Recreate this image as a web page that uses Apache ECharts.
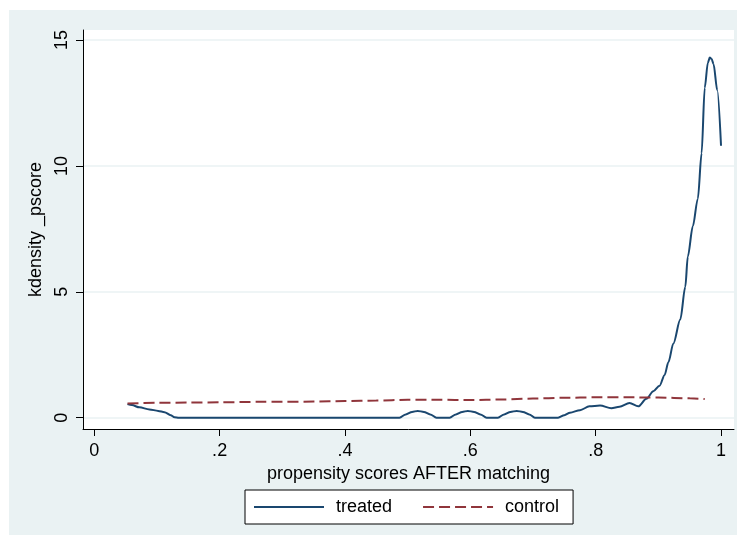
<!DOCTYPE html>
<html>
<head>
<meta charset="utf-8">
<script src="https://cdn.jsdelivr.net/npm/echarts@6/dist/echarts.min.js"></script>
<style>
html,body{margin:0;padding:0;background:#ffffff;}
#chart{width:742px;height:545px;}
</style>
</head>
<body>
<div id="chart"></div>
<script>
// ---- data ----
const xTicks = [0, 0.2, 0.4, 0.6, 0.8, 1];
const yTicks = [0, 5, 10, 15];
const treatedX = [0.053,0.06,0.072,0.088,0.102,0.112,0.122,0.128,0.135,
  0.487,0.497,0.507,0.516,0.526,0.536,0.546,
  0.567,0.577,0.587,0.596,0.606,0.616,0.626,
  0.644,0.654,0.664,0.674,0.684,0.694,0.703,
  0.74,0.75,0.759,0.775,0.79,0.807,0.825,0.838,0.854,0.868,0.881,0.892,0.902,0.91,0.916,
  0.924,0.935,0.943,0.947,0.955,0.963,0.969,0.974,0.979,0.982,0.985,0.988,0.994,1.0];
const treatedY = [0.54,0.5,0.41,0.33,0.27,0.22,0.1,0.02,0,
  0,0.13,0.23,0.27,0.23,0.13,0,
  0,0.13,0.23,0.27,0.23,0.13,0,
  0,0.13,0.23,0.27,0.23,0.13,0,
  0,0.1,0.2,0.3,0.45,0.48,0.38,0.43,0.58,0.45,0.75,1.05,1.27,1.7,2.2,
  2.95,3.9,5.2,6.4,7.6,8.7,10.5,13.1,14.1,14.3,14.25,14.05,13.0,10.8];
const controlX = [0.053,0.1,0.15,0.2,0.264,0.3,0.35,0.4,0.45,0.5,0.55,0.6,0.65,0.7,0.75,0.8,0.85,0.9,0.95,0.974];
const controlY = [0.56,0.59,0.6,0.61,0.63,0.63,0.64,0.66,0.68,0.71,0.71,0.7,0.72,0.76,0.79,0.81,0.81,0.8,0.77,0.74];

const treated = treatedX.map((x, i) => [x, treatedY[i]]);
const control = controlX.map((x, i) => [x, controlY[i]]);

const FONT = 'Liberation Sans, Arial, Helvetica, sans-serif';
const chart = echarts.init(document.getElementById('chart'), null, {renderer: 'canvas'});
chart.setOption({
  animation: false,
  backgroundColor: '#ffffff',
  graphic: [{
    type: 'rect', z: -10, silent: true,
    shape: {x: 9, y: 10, width: 728, height: 525},
    style: {fill: '#eaf2f3'}
  }],
  grid: {
    left: 83, right: 8, top: 30, bottom: 116,
    show: true, backgroundColor: '#ffffff', borderWidth: 0
  },
  xAxis: {
    type: 'value', min: -0.018, max: 1.0207,
    name: 'propensity scores AFTER matching',
    nameLocation: 'middle', nameGap: 35,
    nameTextStyle: {fontFamily: FONT, fontSize: 18, color: '#000'},
    axisLine: {show: true, onZero: false, lineStyle: {color: '#000', width: 1}},
    axisTick: {show: true, customValues: xTicks, length: 7, lineStyle: {color: '#000', width: 1}},
    axisLabel: {customValues: xTicks, margin: 13, fontFamily: FONT, fontSize: 18, color: '#000',
      formatter: v => (v === 0 ? '0' : v === 1 ? '1' : String(v).replace(/^0\./, '.'))},
    splitLine: {show: false}
  },
  yAxis: {
    type: 'value', min: -0.449, max: 15.397,
    name: 'kdensity _pscore',
    nameLocation: 'middle', nameGap: 31, nameRotate: 90,
    nameTextStyle: {fontFamily: FONT, fontSize: 18, color: '#000'},
    axisLine: {show: true, onZero: false, lineStyle: {color: '#000', width: 1}},
    axisTick: {show: true, customValues: yTicks, length: 7, lineStyle: {color: '#000', width: 1}},
    axisLabel: {customValues: yTicks, rotate: 90, margin: 12, fontFamily: FONT, fontSize: 18, color: '#000'},
    splitLine: {show: true, lineStyle: {color: '#eaf2f3', width: 1.5}}
  },
  legend: {
    left: 245, top: 490,
    padding: [8, 14, 8, 8],
    backgroundColor: '#ffffff', borderColor: '#000', borderWidth: 1,
    itemWidth: 70, itemHeight: 16, itemGap: 30,
    itemStyle: {color: 'rgba(0,0,0,0)', borderWidth: 0, opacity: 0},
    textStyle: {fontFamily: FONT, fontSize: 18, color: '#000', padding: [0, 0, 0, 7]},
    data: ['treated', 'control']
  },
  series: [
    {
      name: 'treated', type: 'line', data: treated, symbol: 'none',
      smooth: 0.3, smoothMonotone: 'x',
      lineStyle: {color: '#1a476f', width: 2},
      itemStyle: {color: '#1a476f'}
    },
    {
      name: 'control', type: 'line', data: control, symbol: 'none',
      smooth: 0.3, smoothMonotone: 'x',
      lineStyle: {color: '#90353b', width: 2, type: [11, 5]},
      itemStyle: {color: '#90353b'}
    }
  ]
});
</script>
</body>
</html>
